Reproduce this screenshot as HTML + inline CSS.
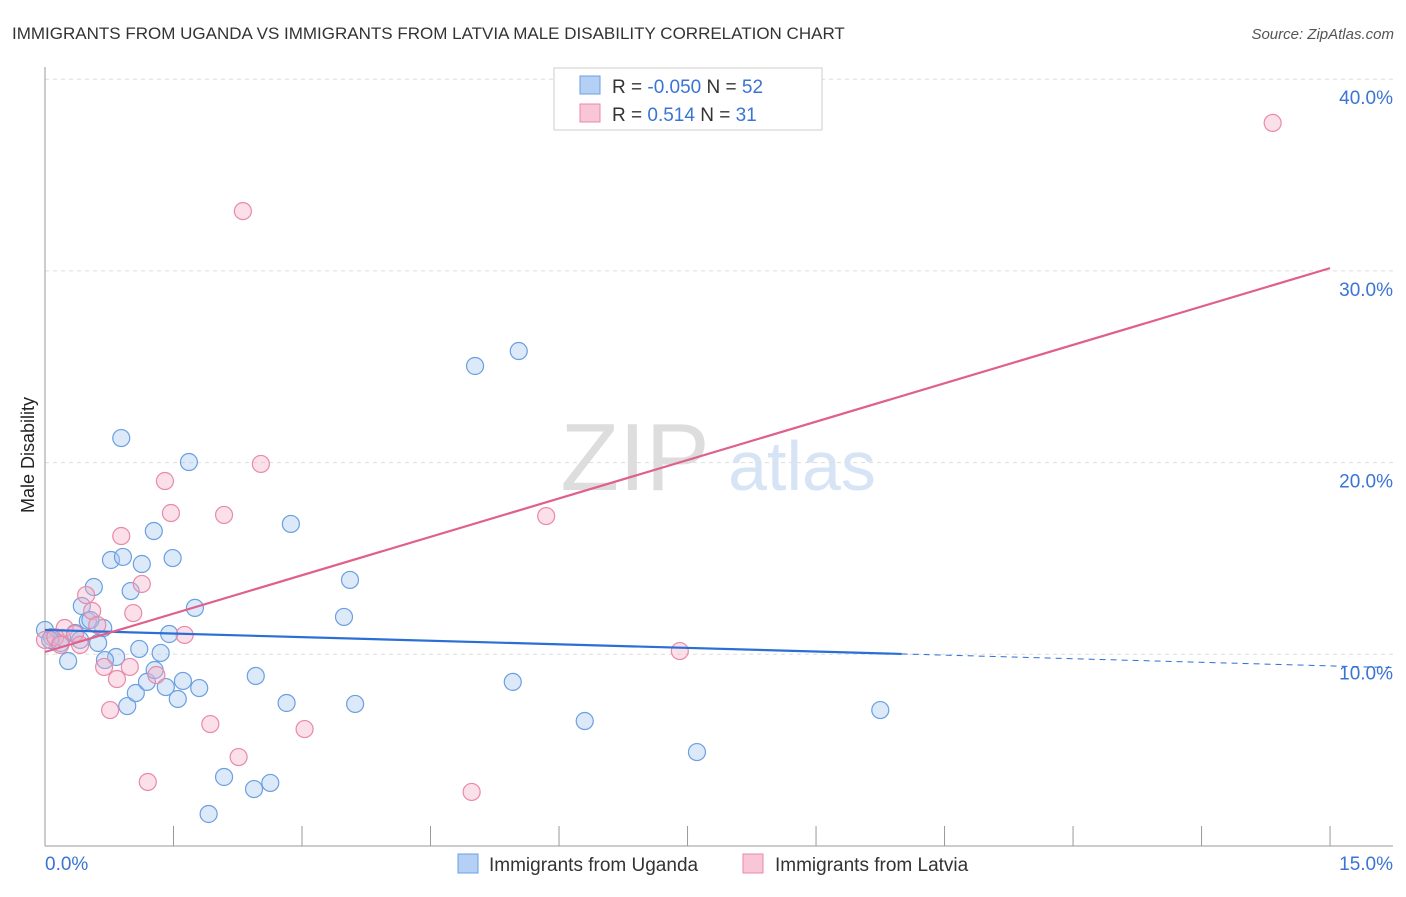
<!DOCTYPE html>
<html><head><meta charset="utf-8"><style>
body{margin:0;background:#fff;font-family:"Liberation Sans",sans-serif;}
svg text{font-family:"Liberation Sans",sans-serif;}
</style></head><body>
<svg id="c" width="1406" height="892" xmlns="http://www.w3.org/2000/svg">
<text x="12" y="39" font-size="17" fill="#333">IMMIGRANTS FROM UGANDA VS IMMIGRANTS FROM LATVIA MALE DISABILITY CORRELATION CHART</text>
<text x="1394" y="39" font-size="15" fill="#555" font-style="italic" text-anchor="end">Source: ZipAtlas.com</text>
<text x="635" y="490" font-size="96" fill="#ddd" font-family="Liberation Serif" text-anchor="middle">ZIP</text>
<text x="802" y="490" font-size="70" fill="#d6e4f5" text-anchor="middle">atlas</text>
<text transform="translate(34,455) rotate(-90)" font-size="18" fill="#222" text-anchor="middle">Male Disability</text>
<g id="grid"></g><g id="axes"></g><g id="pts"></g><g id="trend"></g>
<g>
<rect x="554" y="68" width="268" height="62" fill="#fff" stroke="#ccc"/>
<rect x="580" y="76" width="20" height="18" fill="#b5d0f5" stroke="#6a9fe0"/>
<rect x="580" y="104" width="20" height="18" fill="#f8c6d6" stroke="#e88aa8"/>
<text x="612" y="93" font-size="19" fill="#333">R = <tspan fill="#3a74d4">-0.050</tspan>   N = <tspan fill="#3a74d4">52</tspan></text>
<text x="612" y="121" font-size="19" fill="#333">R =   <tspan fill="#3a74d4">0.514</tspan>   N =  <tspan fill="#3a74d4">31</tspan></text>
</g>
<g>
<rect x="458" y="854" width="20" height="19" fill="#b5d0f5" stroke="#6a9fe0"/>
<text x="489" y="871" font-size="19" fill="#333">Immigrants from Uganda</text>
<rect x="743" y="854" width="20" height="19" fill="#f8c6d6" stroke="#e88aa8"/>
<text x="775" y="871" font-size="19" fill="#333">Immigrants from Latvia</text>
</g>
</svg>
<script>
const ugandaX=[0.00,0.08,0.18,0.27,0.35,0.43,0.50,0.57,0.62,0.68,0.77,0.83,0.89,0.91,0.96,1.00,1.06,1.10,1.13,1.19,1.27,1.28,1.35,1.41,1.45,1.49,1.55,1.61,1.68,1.75,1.80,1.91,2.09,2.44,2.46,2.63,2.82,2.87,3.49,3.56,3.62,5.02,5.46,5.53,6.30,7.61,9.75,0.20,0.06,0.53,0.70,0.41];
const ugandaY=[11.27,10.90,10.59,9.65,11.11,12.52,11.74,13.51,10.59,11.37,14.92,9.86,21.28,15.08,7.30,13.30,7.98,10.28,14.71,8.56,16.43,9.18,10.07,8.29,11.06,15.02,7.67,8.61,20.03,12.42,8.24,1.67,3.60,2.97,8.87,3.29,7.46,16.80,11.95,13.88,7.41,25.04,8.56,25.82,6.52,4.90,7.09,10.85,10.75,11.79,9.70,10.75];
const latviaX=[0.00,0.12,0.23,0.35,0.41,0.48,0.55,0.61,0.69,0.76,0.84,0.89,0.99,1.03,1.13,1.20,1.30,1.40,1.47,1.63,1.93,2.09,2.26,2.31,2.52,3.03,4.98,5.85,7.41,14.33,0.18];
const latviaY=[10.75,10.90,11.37,11.06,10.49,13.09,12.26,11.53,9.34,7.09,8.71,16.17,9.34,12.15,13.67,3.34,8.92,19.04,17.37,11.01,6.36,17.27,4.64,33.12,19.93,6.10,2.82,17.21,10.17,37.72,10.49];
const ugandaTrend=[11.27,-0.125]; // intercept, slope
const latviaTrend=[10.12,1.335];
const yTicks=[10,20,30,40];
const xTickVals=[0,1.5,3,4.5,6,7.5,9,10.5,12,13.5,15];
const NS="http://www.w3.org/2000/svg";
const sx=v=>45+v*85.67, sy=v=>846-v*19.17;
function mk(t,a,p){const e=document.createElementNS(NS,t);for(const k in a)e.setAttribute(k,a[k]);document.getElementById(p).appendChild(e);return e;}
yTicks.forEach(t=>{
 const g=mk('line',{x1:45,x2:1393,y1:sy(t),y2:sy(t),stroke:'#ddd','stroke-dasharray':'4,4'},'grid');
 
 
 const l=mk('text',{x:1393,y:sy(t)+25,'font-size':19,fill:'#3a74d4','text-anchor':'end'},'axes');
 l.textContent=t.toFixed(1)+'%';
 
 
});
const ax=mk('line',{x1:45,x2:1393,y1:846,y2:846,stroke:'#999'},'axes');


const ay=mk('line',{x1:45,x2:45,y1:67,y2:846,stroke:'#999'},'axes');


xTickVals.forEach(t=>{
 const tk=mk('line',{x1:sx(t),x2:sx(t),y1:826,y2:846,stroke:'#999'},'axes');
 
 
});
[[0,'0.0%','start',45],[15,'15.0%','end',1393]].forEach(d=>{
 const l=mk('text',{x:d[3],y:870,'font-size':19,fill:'#3a74d4','text-anchor':d[2]},'axes');
 l.textContent=d[1];
 
 
});
function pts(X,Y,fill,stroke,name){X.forEach((x,i)=>{
 const c=mk('circle',{cx:sx(x),cy:sy(Y[i]),r:8.5,fill:fill,'fill-opacity':0.4,stroke:stroke,'stroke-width':1.2},'pts');
 
 
});}
pts(ugandaX,ugandaY,'#a8c8f0','#6a9fe0','uganda-point');
pts(latviaX,latviaY,'#f5b0c8','#e88aa8','latvia-point');
const f=(t,x)=>t[0]+t[1]*x;
const b1=mk('line',{x1:sx(0),y1:sy(f(ugandaTrend,0)),x2:sx(10),y2:sy(f(ugandaTrend,10)),stroke:'#2a6fd6','stroke-width':2.2},'trend');


const b2=mk('line',{x1:sx(10),y1:sy(f(ugandaTrend,10)),x2:1393,y2:sy(f(ugandaTrend,(1393-45)/85.67)),stroke:'#2a6fd6','stroke-width':1,'stroke-dasharray':'6,5'},'trend');


const p1=mk('line',{x1:sx(0),y1:sy(f(latviaTrend,0)),x2:sx(15),y2:sy(f(latviaTrend,15)),stroke:'#e0608c','stroke-width':2.2},'trend');


</script>
</body></html>
